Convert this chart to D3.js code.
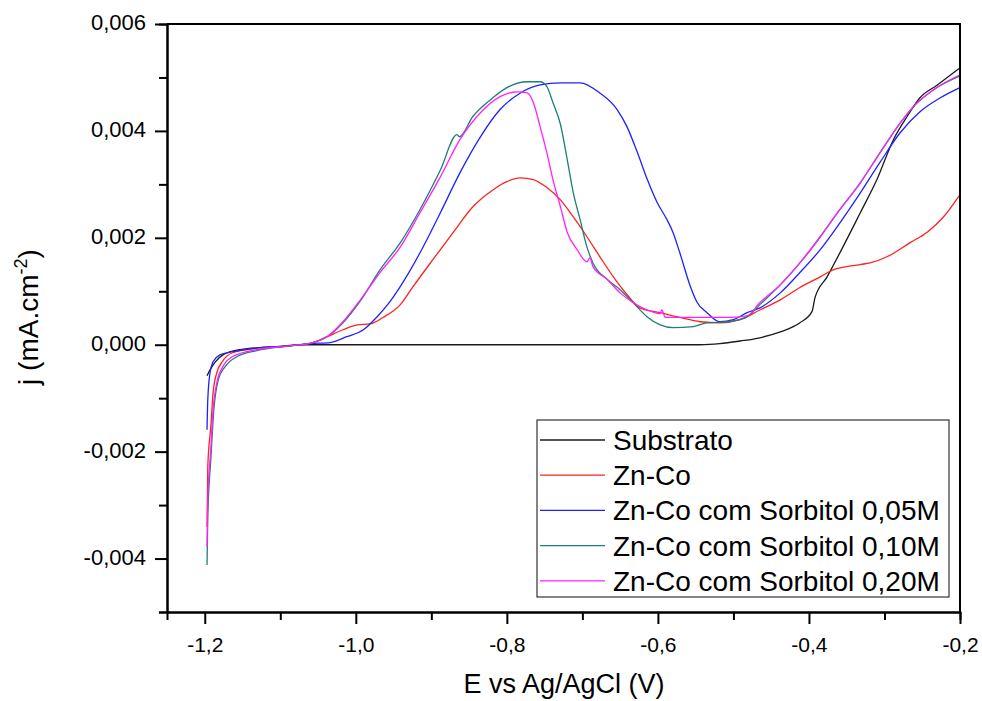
<!DOCTYPE html>
<html>
<head>
<meta charset="utf-8">
<script src="https://cdn.jsdelivr.net/npm/d3@7"></script>
<style>
  html, body { margin: 0; padding: 0; background: #fff; }
  svg { display: block; font-family: "Liberation Sans", Arial, sans-serif; }
</style>
</head>
<body>
<svg id="chart" width="982" height="701"></svg>
<script>
// Voltammetric sweeps: [E (V vs Ag/AgCl), j (mA.cm-2)]
const substrato = [
  [-1.197,-0.00058],[-1.193,-0.00047],[-1.186,-0.00032],[-1.176,-0.00019],[-1.153,-0.00009],
  [-1.110,-0.00004],[-1.065,0],[-0.900,0],[-0.700,0],[-0.544,0],[-0.518,0.00002],[-0.491,0.00007],
  [-0.465,0.00013],[-0.438,0.00024],[-0.412,0.00041],[-0.396,0.00062],[-0.392,0.00088],
  [-0.376,0.00127],[-0.355,0.00183],[-0.332,0.00247],[-0.310,0.00309],[-0.288,0.00384],
  [-0.270,0.00427],[-0.253,0.00462],[-0.230,0.00486],[-0.200,0.00518]
];
const znCo = [
  [-1.197,-0.00341],[-1.196,-0.00228],[-1.192,-0.00153],[-1.189,-0.00090],[-1.184,-0.00052],
  [-1.177,-0.00032],[-1.163,-0.00015],[-1.131,-0.00007],[-1.087,-0.00002],[-1.057,0.00004],
  [-1.038,0.00015],[-1.017,0.00028],[-0.998,0.00037],[-0.981,0.00039],[-0.964,0.00051],
  [-0.941,0.00075],[-0.924,0.00109],[-0.898,0.00159],[-0.871,0.00210],[-0.845,0.00258],
  [-0.818,0.00290],[-0.800,0.00305],[-0.782,0.00312],[-0.765,0.00309],[-0.747,0.00294],
  [-0.729,0.00271],[-0.712,0.00239],[-0.694,0.00202],[-0.677,0.00165],[-0.659,0.00127],
  [-0.641,0.00094],[-0.624,0.00069],[-0.597,0.00060],[-0.571,0.00051],[-0.544,0.00043],
  [-0.518,0.00041],[-0.491,0.00047],[-0.465,0.00065],[-0.438,0.00084],[-0.412,0.00107],
  [-0.385,0.00127],[-0.368,0.00140],[-0.332,0.00150],[-0.319,0.00153],[-0.296,0.00165],
  [-0.266,0.00191],[-0.243,0.00211],[-0.222,0.00239],[-0.200,0.00281]
];
const sorbitol005 = [
  [-1.197,-0.00159],[-1.196,-0.00103],[-1.193,-0.00052],[-1.189,-0.00032],[-1.180,-0.00019],
  [-1.163,-0.00013],[-1.131,-0.00006],[-1.087,-0.00002],[-1.061,0.00002],[-1.034,0.00004],
  [-1.012,0.00015],[-0.990,0.00028],[-0.972,0.00052],[-0.955,0.00080],[-0.941,0.00109],
  [-0.915,0.00172],[-0.888,0.00247],[-0.862,0.00322],[-0.835,0.00389],[-0.809,0.00440],
  [-0.782,0.00471],[-0.756,0.00486],[-0.729,0.00490],[-0.703,0.00490],[-0.677,0.00471],
  [-0.654,0.00440],[-0.641,0.00408],[-0.627,0.00359],[-0.614,0.00309],[-0.601,0.00266],
  [-0.588,0.00234],[-0.580,0.00210],[-0.571,0.00172],[-0.557,0.00109],[-0.548,0.00079],
  [-0.535,0.00060],[-0.518,0.00043],[-0.500,0.00047],[-0.482,0.00060],[-0.465,0.00069],
  [-0.438,0.00097],[-0.412,0.00135],[-0.385,0.00178],[-0.359,0.00228],[-0.332,0.00284],
  [-0.306,0.00341],[-0.279,0.00397],[-0.253,0.00436],[-0.226,0.00462],[-0.200,0.00481]
];
const sorbitol010 = [
  [-1.197,-0.00412],[-1.196,-0.00322],[-1.192,-0.00215],[-1.188,-0.00122],[-1.182,-0.00065],
  [-1.173,-0.00041],[-1.157,-0.00022],[-1.131,-0.00011],[-1.087,-0.00002],[-1.057,0.00004],
  [-1.038,0.00015],[-1.017,0.00041],[-0.994,0.00082],[-0.968,0.00140],[-0.941,0.00191],
  [-0.915,0.00253],[-0.888,0.00327],[-0.866,0.00393],[-0.863,0.00389],[-0.845,0.00427],
  [-0.822,0.00458],[-0.800,0.00481],[-0.773,0.00492],[-0.756,0.00492],[-0.747,0.00483],
  [-0.739,0.00453],[-0.729,0.00412],[-0.720,0.00346],[-0.712,0.00284],[-0.703,0.00234],
  [-0.694,0.00183],[-0.686,0.00153],[-0.667,0.00122],[-0.650,0.00103],[-0.633,0.00079],
  [-0.614,0.00052],[-0.597,0.00037],[-0.580,0.00032],[-0.553,0.00034],[-0.535,0.00041],
  [-0.508,0.00043],[-0.482,0.00052],[-0.465,0.00075],[-0.438,0.00112],[-0.412,0.00153],
  [-0.385,0.00202],[-0.359,0.00253],[-0.332,0.00303],[-0.306,0.00359],[-0.279,0.00415],
  [-0.262,0.00445],[-0.235,0.00477],[-0.200,0.00503]
];
const sorbitol020 = [
  [-1.197,-0.00378],[-1.196,-0.00290],[-1.192,-0.00196],[-1.189,-0.00122],[-1.184,-0.00071],
  [-1.176,-0.00041],[-1.163,-0.00022],[-1.131,-0.00009],[-1.087,-0.00002],[-1.057,0.00004],
  [-1.038,0.00015],[-1.017,0.00043],[-0.994,0.00084],[-0.968,0.00135],[-0.941,0.00183],
  [-0.915,0.00247],[-0.888,0.00314],[-0.862,0.00384],[-0.835,0.00434],[-0.809,0.00464],
  [-0.786,0.00473],[-0.773,0.00471],[-0.765,0.00453],[-0.756,0.00408],[-0.747,0.00359],
  [-0.739,0.00309],[-0.729,0.00258],[-0.720,0.00210],[-0.707,0.00178],[-0.694,0.00155],
  [-0.690,0.00163],[-0.686,0.00146],[-0.667,0.00122],[-0.650,0.00097],[-0.633,0.00079],
  [-0.614,0.00065],[-0.597,0.00058],[-0.595,0.00065],[-0.590,0.00051],[-0.561,0.00051],
  [-0.535,0.00051],[-0.508,0.00051],[-0.482,0.00054],[-0.465,0.00079],[-0.438,0.00112],
  [-0.412,0.00153],[-0.385,0.00202],[-0.359,0.00253],[-0.332,0.00303],[-0.306,0.00359],
  [-0.279,0.00415],[-0.262,0.00445],[-0.235,0.00477],[-0.200,0.00505]
];

const seriesNames = ["Substrato", "Zn-Co", "Zn-Co com Sorbitol 0,05M", "Zn-Co com Sorbitol 0,10M", "Zn-Co com Sorbitol 0,20M"];
const seriesData = [substrato, znCo, sorbitol005, sorbitol010, sorbitol020];
const seriesColors = ["#1a1a1a", "#ff2020", "#2020ff", "#1d7f77", "#ff20ff"];

const xMajorTicks = [-1.2, -1.0, -0.8, -0.6, -0.4, -0.2];
const xMinorTicks = [-1.1, -0.9, -0.7, -0.5, -0.3];
const yMajorTicks = [-0.004, -0.002, 0, 0.002, 0.004, 0.006];
const yMinorTicks = [-0.005, -0.003, -0.001, 0.001, 0.003, 0.005];

const svg = d3.select("#chart");
const plotLeft = 167, plotRight = 960, plotTop = 24, plotBottom = 612;

const x = d3.scaleLinear().domain([-1.25, -0.2]).range([plotLeft, plotRight]);
const y = d3.scaleLinear().domain([-0.005, 0.006]).range([plotBottom, plotTop]);

const fmtX = d => d.toFixed(1).replace(".", ",");
const fmtY = d => d.toFixed(3).replace(".", ",");

// curves
const line = d3.line()
  .x(d => x(d[0]))
  .y(d => y(d[1]))
  .curve(d3.curveMonotoneX);

svg.append("g").selectAll("path")
  .data(seriesData)
  .join("path")
  .attr("d", line)
  .attr("fill", "none")
  .attr("stroke", (d, i) => seriesColors[i])
  .attr("stroke-width", 1.3)
  .attr("stroke-linejoin", "round");

// axes
function styleAxis(g) {
  g.select(".domain").attr("stroke", "#000").attr("stroke-width", 2);
  g.selectAll(".tick line").attr("stroke", "#000").attr("stroke-width", 2);
  g.selectAll(".tick text").attr("fill", "#000");
}

svg.append("g")
  .attr("transform", `translate(0,${plotBottom})`)
  .call(d3.axisBottom(x).tickValues(xMinorTicks).tickSize(8).tickFormat(""))
  .call(styleAxis);
svg.append("g")
  .attr("transform", `translate(0,${plotBottom})`)
  .call(d3.axisBottom(x).tickValues(xMajorTicks).tickSize(12).tickSizeOuter(0).tickPadding(13).tickFormat(fmtX))
  .call(styleAxis)
  .call(g => g.selectAll(".tick text").attr("font-size", 21));

svg.append("g")
  .attr("transform", `translate(${plotLeft},0)`)
  .call(d3.axisLeft(y).tickValues(yMinorTicks).tickSize(8).tickFormat(""))
  .call(styleAxis);
svg.append("g")
  .attr("transform", `translate(${plotLeft},0)`)
  .call(d3.axisLeft(y).tickValues(yMajorTicks).tickSize(12).tickSizeOuter(0).tickPadding(9).tickFormat(fmtY))
  .call(styleAxis)
  .call(g => g.selectAll(".tick text").attr("font-size", 22).attr("dy", "0.25em"));

// frame top and right
svg.append("line").attr("x1", plotLeft).attr("x2", plotRight + 1).attr("y1", plotTop).attr("y2", plotTop)
  .attr("stroke", "#000").attr("stroke-width", 2);
svg.append("line").attr("x1", plotRight).attr("x2", plotRight).attr("y1", plotTop).attr("y2", plotBottom + 1)
  .attr("stroke", "#000").attr("stroke-width", 2);

// axis titles
svg.append("text")
  .attr("x", 564).attr("y", 693)
  .attr("text-anchor", "middle").attr("font-size", 27)
  .text("E vs Ag/AgCl (V)");

const yTitle = svg.append("text")
  .attr("transform", `translate(38,317) rotate(-90)`)
  .attr("text-anchor", "middle").attr("font-size", 28);
yTitle.append("tspan").text("j (mA.cm");
yTitle.append("tspan").attr("font-size", 18).attr("dy", -11).text("-2");
yTitle.append("tspan").attr("dy", 11).text(")");

// legend
const legend = svg.append("g");
legend.append("rect")
  .attr("x", 537).attr("y", 420).attr("width", 412).attr("height", 177)
  .attr("fill", "#fff").attr("stroke", "#333").attr("stroke-width", 1.2);
const items = legend.selectAll("g.item")
  .data(seriesNames)
  .join("g")
  .attr("class", "item")
  .attr("transform", (d, i) => `translate(0,${440 + i * 35.2})`);
items.append("line")
  .attr("x1", 540).attr("x2", 605).attr("y1", 0).attr("y2", 0)
  .attr("stroke", (d, i) => seriesColors[i]).attr("stroke-width", 1.3);
items.append("text")
  .attr("x", 613).attr("y", 0).attr("dy", "0.36em")
  .attr("font-size", 28)
  .text(d => d);
</script>
</body>
</html>
